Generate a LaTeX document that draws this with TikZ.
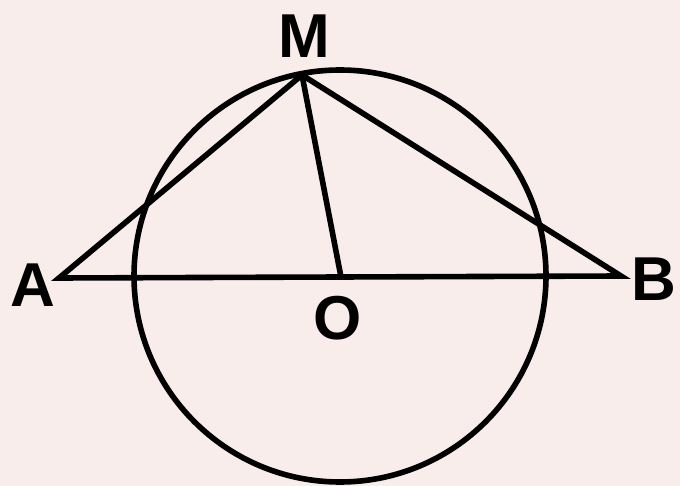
\documentclass[tikz,border=0pt]{standalone}
\usepackage{fontspec}
\setmainfont{Liberation Sans}
\definecolor{bgpink}{HTML}{F9EDEB}
\tikzset{
  geo/.style={line width=5.6pt, draw=black},
  lbl/.style={font=\fontsize{62}{62}\selectfont\bfseries, inner sep=0pt, text=black}
}
\begin{document}
\begin{tikzpicture}[x=1pt,y=-1pt]
\fill[bgpink] (0,0) rectangle (680,486);
\useasboundingbox (0,0) rectangle (680,486);
\coordinate (A) at (59,278);
\coordinate (B) at (621,276);
\coordinate (M) at (302,75);
\coordinate (O) at (341,277);
\draw[geo] (340,276) circle[radius=206];
\draw[geo] (A) -- (M) -- (B) -- cycle;
\draw[geo] (M) -- (O);
\node[lbl] (lM) at (304,36) {M};
\node[lbl] (lA) at (33,285) {A};
\node[lbl] (lB) at (654,279) {B};
\node[lbl] (lO) at (338,318) {O};
\end{tikzpicture}
\end{document}
